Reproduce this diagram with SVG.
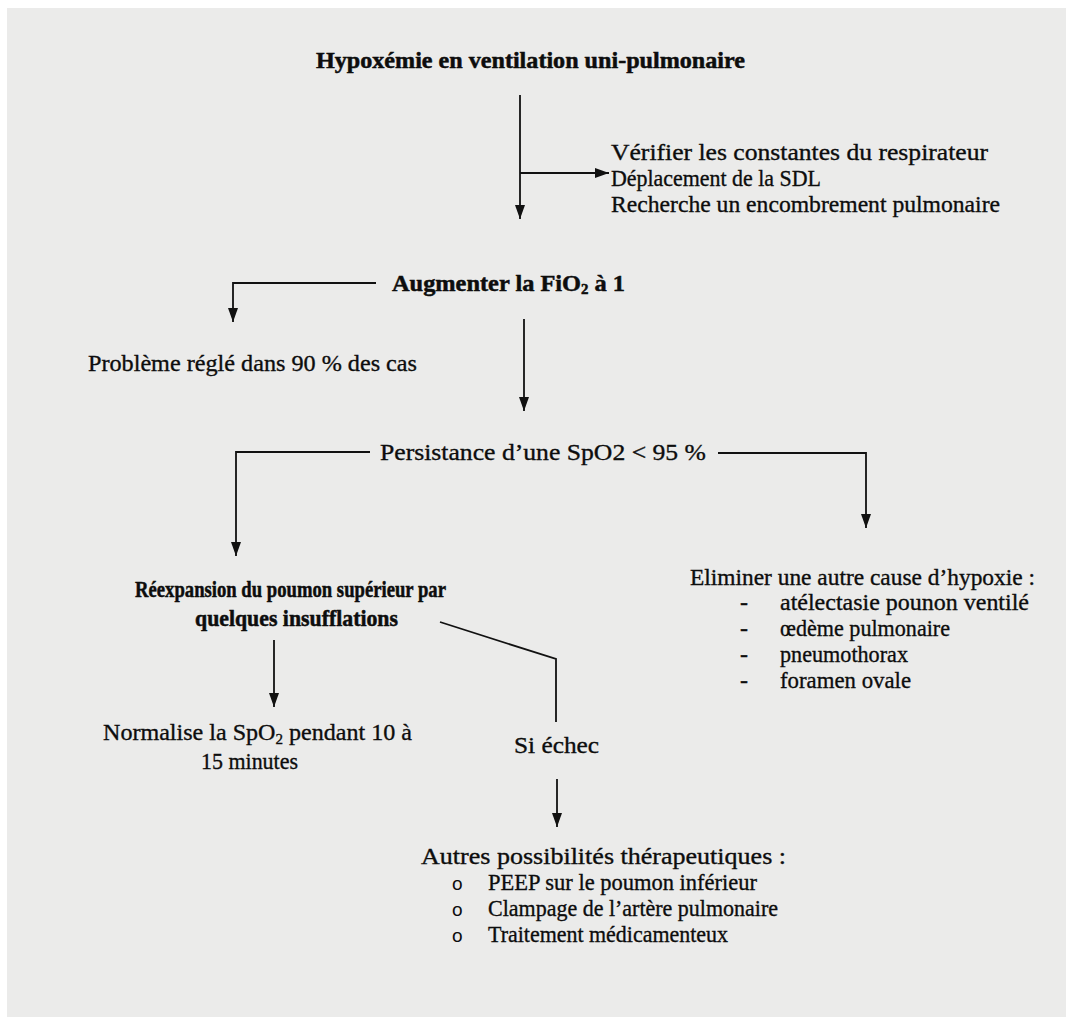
<svg xmlns="http://www.w3.org/2000/svg" width="1066" height="1017" viewBox="0 0 1066 1017">
<defs>
<style>
text{font-family:"Liberation Serif","Times New Roman",serif;fill:#0d0d0d;font-size:24px;stroke:#0d0d0d;stroke-width:0.35}
.b{font-weight:bold;font-size:23px;stroke-width:0.5}
.ln{stroke:#111;stroke-width:1.8;fill:none}
.bul{font-family:"Liberation Sans",Arial,sans-serif;font-size:19px;stroke:none}
</style>
<marker id="ah" viewBox="0 0 14 10" refX="14" refY="5" markerWidth="14" markerHeight="10" markerUnits="userSpaceOnUse" orient="auto">
<path d="M0,0 L14,5 L0,10 Z" fill="#111"/>
</marker>
</defs>
<rect x="0" y="0" width="1066" height="1017" fill="#ffffff"/>
<rect x="7" y="8" width="1059" height="1009" fill="#ebebea"/>

<g id="connectors">
<line class="ln" x1="520" y1="95" x2="520" y2="219" marker-end="url(#ah)"/>
<line class="ln" x1="520" y1="173" x2="609" y2="173" marker-end="url(#ah)"/>
<polyline class="ln" points="376,283 233,283 233,322" marker-end="url(#ah)"/>
<line class="ln" x1="524" y1="319" x2="524" y2="411" marker-end="url(#ah)"/>
<polyline class="ln" points="370,452 236,452 236,556" marker-end="url(#ah)"/>
<polyline class="ln" points="718,453 866,453 866,528" marker-end="url(#ah)"/>
<line class="ln" x1="274" y1="640" x2="274" y2="707" marker-end="url(#ah)"/>
<polyline class="ln" points="440,622 556,659 556,722"/>
<line class="ln" x1="557" y1="779" x2="557" y2="827" marker-end="url(#ah)"/>
</g>

<g id="n-title"><text class="b" x="316" y="68" textLength="429" lengthAdjust="spacingAndGlyphs">Hypoxémie en ventilation uni-pulmonaire</text></g>
<g id="n-check">
<text x="611" y="160" textLength="377" lengthAdjust="spacingAndGlyphs">Vérifier les constantes du respirateur</text>
<text x="611" y="186" textLength="210" lengthAdjust="spacingAndGlyphs">Déplacement de la SDL</text>
<text x="611" y="212" textLength="389" lengthAdjust="spacingAndGlyphs">Recherche un encombrement pulmonaire</text>
</g>
<g id="n-fio2"><text class="b" x="392" y="291" textLength="233" lengthAdjust="spacingAndGlyphs">Augmenter la FiO<tspan font-size="14" dy="3">2</tspan><tspan dy="-3"> à 1</tspan></text></g>
<g id="n-regle"><text x="88" y="371" textLength="329" lengthAdjust="spacingAndGlyphs">Problème réglé dans 90 % des cas</text></g>
<g id="n-persist"><text x="380" y="460" textLength="326" lengthAdjust="spacingAndGlyphs">Persistance d’une SpO2 &lt; 95 %</text></g>
<g id="n-reexp">
<text class="b" x="135" y="597" textLength="311" lengthAdjust="spacingAndGlyphs">Réexpansion du poumon supérieur par</text>
<text class="b" x="195" y="626" textLength="203" lengthAdjust="spacingAndGlyphs">quelques insufflations</text>
</g>
<g id="n-normal">
<text x="103" y="740" textLength="309" lengthAdjust="spacingAndGlyphs">Normalise la SpO<tspan font-size="15" dy="4">2</tspan><tspan dy="-4"> pendant 10 à</tspan></text>
<text x="201" y="769" textLength="97" lengthAdjust="spacingAndGlyphs">15 minutes</text>
</g>
<g id="n-echec"><text x="514" y="753" textLength="85" lengthAdjust="spacingAndGlyphs">Si échec</text></g>
<g id="n-autres">
<text x="421" y="864" textLength="365" lengthAdjust="spacingAndGlyphs">Autres possibilités thérapeutiques :</text>
<text class="bul" x="452" y="890">o</text>
<text x="488" y="890" textLength="269" lengthAdjust="spacingAndGlyphs">PEEP sur le poumon inférieur</text>
<text class="bul" x="452" y="916">o</text>
<text x="488" y="916" textLength="290" lengthAdjust="spacingAndGlyphs">Clampage de l’artère pulmonaire</text>
<text class="bul" x="452" y="942">o</text>
<text x="488" y="942" textLength="240" lengthAdjust="spacingAndGlyphs">Traitement médicamenteux</text>
</g>
<g id="n-eliminer">
<text x="690" y="585" textLength="345" lengthAdjust="spacingAndGlyphs">Eliminer une autre cause d’hypoxie :</text>
<text x="740" y="610">-</text>
<text x="780" y="610" textLength="249" lengthAdjust="spacingAndGlyphs">atélectasie pounon ventilé</text>
<text x="740" y="636">-</text>
<text x="780" y="636" textLength="170" lengthAdjust="spacingAndGlyphs">œdème pulmonaire</text>
<text x="740" y="662">-</text>
<text x="780" y="662" textLength="128" lengthAdjust="spacingAndGlyphs">pneumothorax</text>
<text x="740" y="688">-</text>
<text x="780" y="688" textLength="131" lengthAdjust="spacingAndGlyphs">foramen ovale</text>
</g>
</svg>
